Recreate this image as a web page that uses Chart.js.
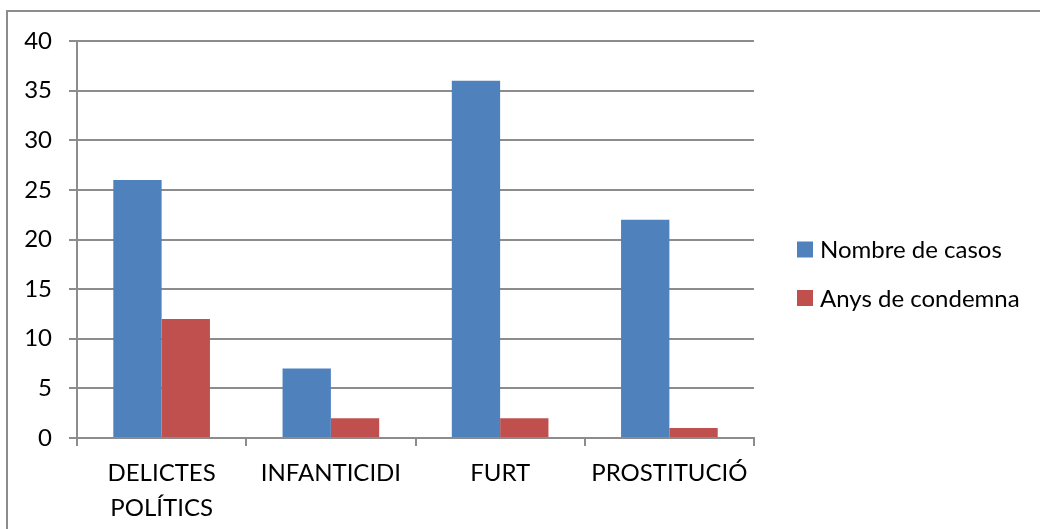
<!DOCTYPE html>
<html>
<head>
<meta charset="utf-8">
<script src="https://cdn.jsdelivr.net/npm/chart.js@4/dist/chart.umd.min.js"></script>
<style>
    html, body { margin: 0; padding: 0; background: #fff; overflow: hidden; }
    #wrap { position: relative; width: 1040px; height: 529px; }
    #marc { position: absolute; left: 6px; top: 10px; width: 1100px; height: 600px; border: 2px solid #8c8c8c; box-sizing: border-box; }
    #grafic { position: absolute; left: 0; top: 0; }
</style>
</head>
<body>
<div id="wrap">
    <div id="marc"></div>
    <canvas id="grafic" width="1040" height="529"></canvas>
</div>
<script>
// Dades del gràfic
const categories = [['DELICTES', 'POLÍTICS'], 'INFANTICIDI', 'FURT', 'PROSTITUCIÓ'];
const nombreCasos = [26, 7, 36, 22];
const anysCondemna = [12, 2, 2, 1];
const nomsSeries = ['Nombre de casos', 'Anys de condemna'];
const colors = ['#4F81BD', '#C0504D'];
const yTicks = [0, 5, 10, 15, 20, 25, 30, 35, 40];

const FONT = 'Lato, "Open Sans", sans-serif';
const MIDA = 24;
const GRIS = '#8c8c8c';

// Llegenda dibuixada a mà per controlar-ne la posició
const llegenda = {
    id: 'llegenda',
    afterDraw(chart) {
        const ctx = chart.ctx;
        const files = [249.5, 298];
        ctx.save();
        ctx.font = MIDA + 'px ' + FONT;
        ctx.textBaseline = 'middle';
        ctx.textAlign = 'left';
        chart.data.datasets.forEach((ds, i) => {
            const y = files[i];
            ctx.fillStyle = ds.backgroundColor;
            ctx.fillRect(797, y - 8, 16, 16);
            ctx.fillStyle = '#000';
            ctx.fillText(ds.label, 820, y + 1);
        });
        ctx.restore();
    }
};

const ctx = document.getElementById('grafic').getContext('2d');
new Chart(ctx, {
    type: 'bar',
    data: {
        labels: categories,
        datasets: [
            { label: nomsSeries[0], data: nombreCasos, backgroundColor: colors[0], borderWidth: 0 },
            { label: nomsSeries[1], data: anysCondemna, backgroundColor: colors[1], borderWidth: 0 }
        ]
    },
    options: {
        responsive: false,
        animation: false,
        layout: { padding: { left: 0, top: 41, right: 286, bottom: 0 } },
        datasets: { bar: { categoryPercentage: 0.571, barPercentage: 1 } },
        plugins: {
            legend: { display: false },
            tooltip: { enabled: false }
        },
        scales: {
            x: {
                grid: { drawOnChartArea: false, drawTicks: true, tickLength: 8, color: GRIS, lineWidth: 2, offset: true },
                border: { color: GRIS, width: 2 },
                ticks: { color: '#000', font: { family: FONT, size: MIDA, lineHeight: 1.45 }, padding: 10, maxRotation: 0, autoSkip: false },
                afterFit: (scale) => { scale.height = 529 - 438; }
            },
            y: {
                min: 0,
                max: 40,
                afterBuildTicks: (scale) => { scale.ticks = yTicks.map(v => ({ value: v })); },
                grid: { color: GRIS, lineWidth: 2, tickLength: 8 },
                border: { color: GRIS, width: 2 },
                ticks: { color: '#000', font: { family: FONT, size: MIDA }, padding: 17 },
                afterFit: (scale) => { scale.width = 77; }
            }
        }
    },
    plugins: [llegenda]
});
</script>
</body>
</html>
